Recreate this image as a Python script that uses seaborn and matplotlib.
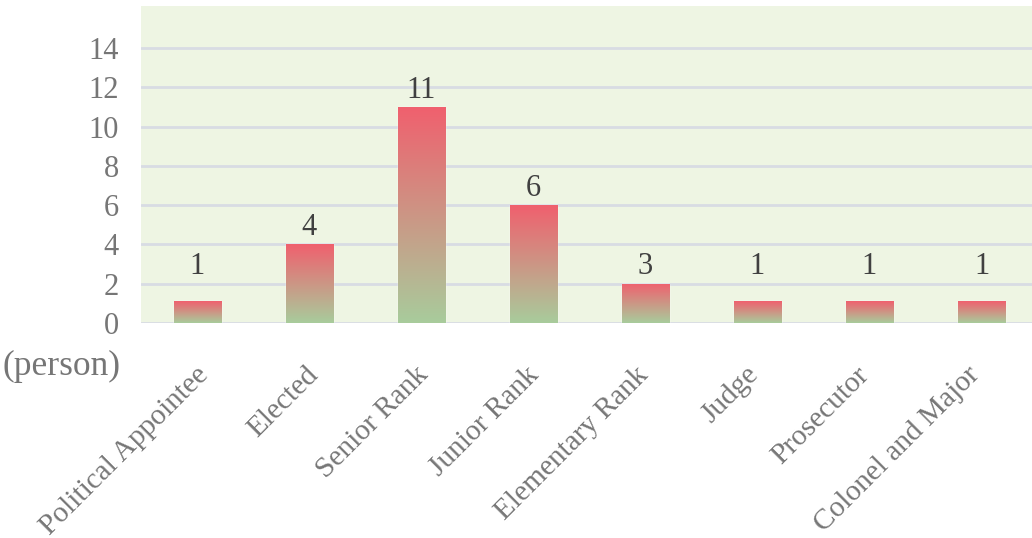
import numpy as np
import pandas as pd
import matplotlib
matplotlib.use("Agg")
import matplotlib.pyplot as plt
from matplotlib.colors import LinearSegmentedColormap
import seaborn as sns

categories = ["Political Appointee", "Elected", "Senior Rank", "Junior Rank",
              "Elementary Rank", "Judge", "Prosecutor", "Colonel and Major"]
bar_values = [1.1, 4, 11, 6, 2, 1.1, 1.1, 1.1]
label_values = [1, 4, 11, 6, 3, 1, 1, 1]
y_ticks = [0, 2, 4, 6, 8, 10, 12, 14]
unit_label = "(person)"

sns.set_theme(style="white")
plt.rcParams["font.family"] = ["Liberation Serif", "DejaVu Serif"]

df = pd.DataFrame({"cat": categories, "val": bar_values})

fig = plt.figure(figsize=(10.32, 5.38), dpi=100)
ax = fig.add_axes([141 / 1032, 1 - 323 / 538, (1032 - 141) / 1032, (323 - 6) / 538])
ax.set_facecolor("#EEF5E3")

sns.barplot(data=df, x="cat", y="val", ax=ax, width=0.42, color="#E0A090",
            saturation=1, zorder=3)

ax.set_xlim(-0.5, 7.45)
ax.set_ylim(0, 16.15)
ax.set_yticks(y_ticks)
ax.set_yticklabels([str(t) for t in y_ticks])
ax.yaxis.grid(True, color="#D8DCE3", linewidth=2, zorder=0)
ax.set_axisbelow(True)
for s in ax.spines.values():
    s.set_visible(False)
ax.set_xlabel("")
ax.set_ylabel("")
ax.tick_params(axis="y", length=0, labelsize=22, labelcolor="#767676", pad=16)
ax.tick_params(axis="x", length=0, labelsize=21.2, labelcolor="#767676")
plt.setp(ax.get_xticklabels(), rotation=45, ha="right", va="center",
         rotation_mode="anchor")
for i, lbl in enumerate(ax.get_xticklabels()):
    dx = (7 - 1.9 * i) / 100
    lbl.set_transform(lbl.get_transform() + matplotlib.transforms.ScaledTranslation(dx, -43 / 100, fig.dpi_scale_trans))

# gradient fill inside each bar
cmap = LinearSegmentedColormap.from_list("g", ["#A8CC9C", "#F0606E"])
grad = np.linspace(0, 1, 256).reshape(-1, 1)
for p in ax.patches:
    x0, y0 = p.get_x(), p.get_y()
    w, h = p.get_width(), p.get_height()
    im = ax.imshow(grad, cmap=cmap, origin="lower", aspect="auto",
                   extent=[x0, x0 + w, y0, y0 + h], zorder=4)
    im.set_clip_path(p)
ax.set_xlim(-0.5, 7.45)
ax.set_ylim(0, 16.15)

# value labels
for i, (v, lv) in enumerate(zip(bar_values, label_values)):
    ax.text(i, max(v, 2) + 0.12, str(lv), ha="center", va="bottom",
            fontsize=22, color="#404040", zorder=5)

fig.text(3 / 1032, 1 - 366 / 538, unit_label, fontsize=25.5, color="#767676",
         ha="left", va="center")

fig.savefig("out.png", dpi=100, facecolor="white")
